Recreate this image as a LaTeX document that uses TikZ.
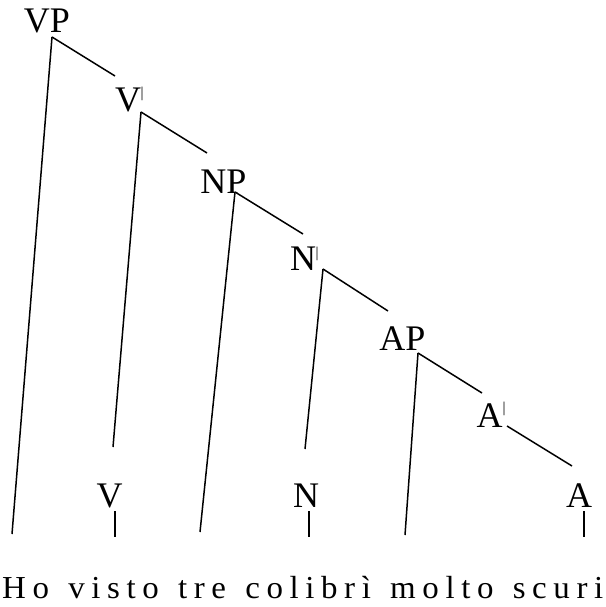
\documentclass[tikz,border=0pt]{standalone}
\usepackage{graphicx}
\usepackage{fontspec}
\setmainfont{Liberation Serif}
\newfontfamily\sentfont[LetterSpace=20,WordSpace=1.3]{Liberation Serif}
\begin{document}
\begin{tikzpicture}[x=1pt,y=-1pt,
  lbl/.style={font=\fontsize{36}{40}\selectfont, inner sep=0, anchor=base},
  barmark/.style={font=\fontsize{15}{18}\selectfont, inner sep=0},
  edge/.style={line width=1.5pt},
  sent/.style={font=\sentfont\fontsize{32}{38}\selectfont, inner sep=0, anchor=base west}]
\useasboundingbox (0,0) rectangle (605,607);
% labels
\node[lbl] (VP) at (47,33) {VP};
\node[lbl] (V1) at (128,112) {V};
\node[barmark] (V1b) at (142,94) {|};
\node[lbl] (NP) at (223.5,193) {NP};
\node[lbl] (N1) at (303,270) {N};
\node[barmark] (N1b) at (317,254) {|};
\node[lbl] (AP) at (402.5,350) {AP};
\node[lbl] (A1) at (489.5,427) {A};
\node[barmark] (A1b) at (504,409) {|};
\node[lbl] (V) at (109.5,507) {V};
\node[lbl] (N) at (306,507) {N};
\node[lbl] (A) at (579,507) {A};
\node[sent] (S) at (2,598) {\resizebox{601pt}{\height}{Ho visto tre colibrì molto scuri}};
% connector points
\coordinate (VPa) at (52,37);
\coordinate (VPe1) at (115,76);
\coordinate (VPe2) at (12,534);
\coordinate (V1a) at (141,112);
\coordinate (V1e1) at (207,153);
\coordinate (V1e2) at (113,447);
\coordinate (NPa) at (235,192);
\coordinate (NPe1) at (303,234);
\coordinate (NPe2) at (200,532);
\coordinate (N1a) at (323,269);
\coordinate (N1e1) at (388,311);
\coordinate (N1e2) at (305,449);
\coordinate (APa) at (418,353);
\coordinate (APe1) at (482,393);
\coordinate (APe2) at (405,535);
\coordinate (A1a) at (507,426);
\coordinate (A1e1) at (572,466);
\coordinate (Vt1) at (115,511);
\coordinate (Vt2) at (115,537);
\coordinate (Nt1) at (309,511);
\coordinate (Nt2) at (309,537);
\coordinate (At1) at (584,511);
\coordinate (At2) at (584,537);
% connectors
\draw[edge] (VPa) -- (VPe1);
\draw[edge] (VPa) -- (VPe2);
\draw[edge] (V1a) -- (V1e1);
\draw[edge] (V1a) -- (V1e2);
\draw[edge] (NPa) -- (NPe1);
\draw[edge] (NPa) -- (NPe2);
\draw[edge] (N1a) -- (N1e1);
\draw[edge] (N1a) -- (N1e2);
\draw[edge] (APa) -- (APe1);
\draw[edge] (APa) -- (APe2);
\draw[edge] (A1a) -- (A1e1);
\draw[edge] (Vt1) -- (Vt2);
\draw[edge] (Nt1) -- (Nt2);
\draw[edge] (At1) -- (At2);
\end{tikzpicture}
\end{document}
